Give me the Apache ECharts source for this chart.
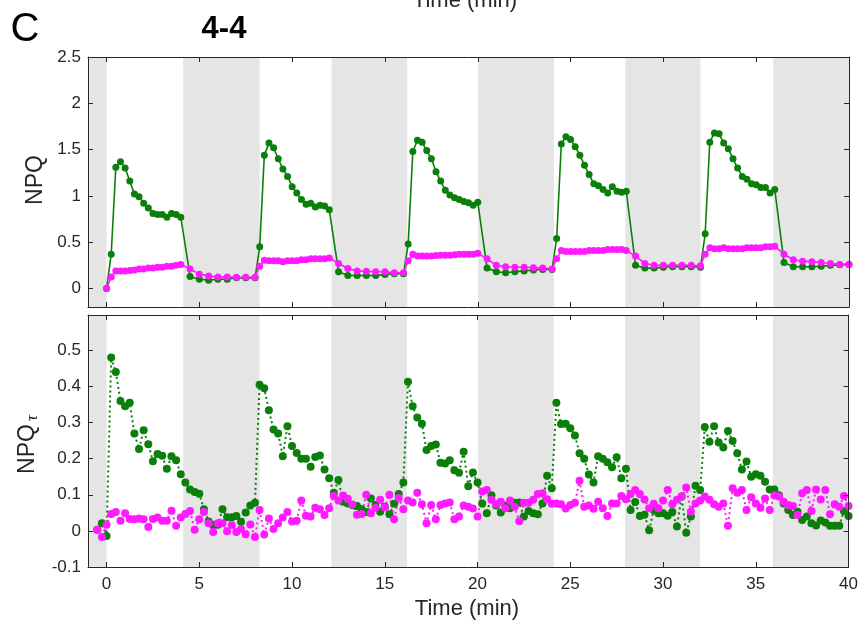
<!DOCTYPE html>
<html>
<head>
<meta charset="utf-8">
<script src="https://cdn.jsdelivr.net/npm/echarts@6/dist/echarts.min.js"></script>
<style>
html,body{margin:0;padding:0;background:#ffffff;}
#c{width:861px;height:624px;}
</style>
</head>
<body>
<div id="c"></div>
<script>
// ---------- tick labels ----------
const xTicks = [0, 5, 10, 15, 20, 25, 30, 35, 40];
const npqTicks = [0, 0.5, 1, 1.5, 2, 2.5];
const tauTicks = [-0.1, 0, 0.1, 0.2, 0.3, 0.4, 0.5];

// dark (shaded) periods, minutes
const darkBands = [[-1, 0], [4.13, 8.25], [12.12, 16.2], [20.02, 24.1], [27.95, 32.0], [35.92, 40]];

// ---------- sampling of the NPQ panel ----------
// one baseline point at t=0, then per 8-min cycle: 16 light points every 0.25 min, 8 dark points every 0.5 min
const cycleStarts = [0, 8, 16, 24, 32];
const lightOffsets = [0.25,0.5,0.75,1,1.25,1.5,1.75,2,2.25,2.5,2.75,3,3.25,3.5,3.75,4];
const darkOffsets = [4.5,5,5.5,6,6.5,7,7.5,8];

// ---------- NPQ values (top panel) ----------
const npqGreen = [0.00,
  0.37,1.31,1.37,1.30,1.16,1.02,0.99,0.92,0.87,0.81,0.80,0.80,0.77,0.81,0.80,0.77,
  0.13,0.10,0.09,0.10,0.10,0.115,0.115,0.115,
  0.45,1.44,1.57,1.52,1.40,1.29,1.21,1.10,1.03,0.96,0.91,0.92,0.88,0.90,0.89,0.85,
  0.18,0.14,0.14,0.14,0.14,0.15,0.16,0.16,
  0.48,1.48,1.60,1.58,1.49,1.40,1.26,1.16,1.06,1.01,0.98,0.96,0.94,0.925,0.90,0.93,
  0.22,0.18,0.17,0.18,0.19,0.20,0.205,0.205,
  0.54,1.56,1.64,1.61,1.53,1.44,1.33,1.23,1.13,1.11,1.07,1.03,1.10,1.05,1.04,1.05,
  0.25,0.22,0.22,0.23,0.235,0.235,0.235,0.23,
  0.59,1.58,1.68,1.67,1.57,1.51,1.40,1.30,1.21,1.18,1.13,1.12,1.09,1.09,1.03,1.07,
  0.28,0.235,0.235,0.235,0.24,0.25,0.255,0.26];

const npqMagenta = [0.00,
  0.125,0.19,0.19,0.19,0.195,0.20,0.21,0.21,0.22,0.22,0.23,0.23,0.24,0.24,0.25,0.26,
  0.21,0.155,0.135,0.125,0.125,0.12,0.12,0.12,
  0.24,0.305,0.30,0.30,0.30,0.29,0.30,0.30,0.30,0.31,0.31,0.32,0.32,0.32,0.32,0.33,
  0.27,0.215,0.19,0.185,0.18,0.18,0.17,0.17,
  0.30,0.37,0.35,0.35,0.35,0.35,0.355,0.36,0.36,0.36,0.365,0.37,0.37,0.37,0.37,0.38,
  0.32,0.25,0.235,0.23,0.23,0.225,0.22,0.21,
  0.32,0.41,0.40,0.40,0.40,0.40,0.40,0.41,0.41,0.41,0.41,0.42,0.42,0.42,0.42,0.41,
  0.35,0.27,0.25,0.25,0.25,0.25,0.25,0.245,
  0.37,0.44,0.43,0.43,0.44,0.43,0.43,0.43,0.43,0.44,0.44,0.44,0.44,0.45,0.45,0.455,
  0.37,0.31,0.295,0.29,0.28,0.27,0.26,0.26];

// ---------- NPQ-tau values (bottom panel), sampled every 0.25 min from -0.5 min ----------
const tauStart = -0.5, tauStep = 0.25;
const tauGreen = [
  0.003,0.021,-0.014,0.48,0.44,0.36,0.345,0.355,0.27,0.227,
  0.279,0.24,0.193,0.213,0.208,0.172,0.207,0.196,0.157,0.134,
  0.115,0.108,0.103,0.06,0.026,0.017,0.017,0.06,0.038,0.038,
  0.041,0.025,0.051,0.07,0.078,0.405,0.395,0.334,0.281,0.27,
  0.207,0.29,0.235,0.216,0.20,0.20,0.178,0.205,0.209,0.17,
  0.146,0.106,0.141,0.081,0.076,0.072,0.069,0.06,0.052,0.09,
  0.072,0.053,0.067,0.046,0.075,0.102,0.134,0.413,0.345,0.314,
  0.297,0.224,0.235,0.239,0.189,0.187,0.196,0.168,0.161,0.219,
  0.124,0.162,0.134,0.076,0.049,0.099,0.07,0.051,0.07,0.063,
  0.078,0.079,0.04,0.055,0.049,0.046,0.076,0.153,0.118,0.355,
  0.296,0.297,0.284,0.264,0.215,0.2,0.156,0.134,0.207,0.2,
  0.19,0.176,0.204,0.146,0.172,0.058,0.08,0.041,0.045,0.002,
  0.058,0.049,0.049,0.042,0.052,0.012,0.095,-0.005,0.04,0.125,
  0.113,0.288,0.247,0.29,0.245,0.231,0.277,0.249,0.215,0.17,
  0.192,0.15,0.157,0.153,0.136,0.115,0.115,0.099,0.076,0.058,
  0.044,0.053,0.03,0.04,0.021,0.015,0.029,0.023,0.014,0.014,
  0.014,0.055,0.041];

const tauMagenta = [
  0.003,-0.017,0.017,0.047,0.052,0.028,0.049,0.033,0.032,0.034,
  0.032,0.011,0.033,0.037,0.028,0.028,0.056,0.014,0.037,0.047,
  0.055,0.003,0.032,0.052,0.021,-0.003,0.021,0.021,-0.001,0.016,
  -0.003,0.005,-0.009,0.018,-0.017,0.058,-0.01,0.034,0.005,0.021,
  0.037,0.052,0.026,0.028,0.084,0.042,0.04,0.064,0.06,0.044,
  0.063,0.097,0.084,0.098,0.089,0.073,0.045,0.047,0.1,0.049,
  0.064,0.086,0.065,0.1,0.032,0.091,0.06,0.084,0.079,0.106,
  0.074,0.021,0.072,0.032,0.072,0.076,0.079,0.032,0.04,0.07,
  0.067,0.062,0.04,0.109,0.113,0.086,0.074,0.081,0.063,0.084,
  0.067,0.027,0.078,0.078,0.086,0.102,0.104,0.088,0.075,0.076,
  0.074,0.062,0.072,0.078,0.139,0.067,0.07,0.061,0.081,0.063,
  0.041,0.076,0.076,0.097,0.088,0.102,0.113,0.102,0.087,0.063,
  0.075,0.063,0.084,0.113,0.074,0.086,0.095,0.12,0.053,0.076,
  0.084,0.095,0.086,0.074,0.067,0.076,0.014,0.118,0.106,0.113,
  0.058,0.093,0.076,0.064,0.09,0.058,0.098,0.095,0.081,0.072,
  0.069,0.044,0.104,0.113,0.055,0.115,0.087,0.113,0.046,0.074,
  0.067,0.097,0.069];

// ---------- build ----------
const npqTimes = [0];
cycleStarts.forEach(c => {
  lightOffsets.forEach(o => npqTimes.push(c + o));
  darkOffsets.forEach(o => npqTimes.push(c + o));
});
const tauTimes = tauGreen.map((_, k) => tauStart + tauStep * k);

const GREEN = '#0a7f0a';
const MAGENTA = '#ff1aff';
const AX = '#262626';
const FONT = '"Liberation Sans", Arial, Helvetica, sans-serif';

function xAxisDef(gridIndex, position, showLabels) {
  return {
    type: 'value', gridIndex: gridIndex, position: position, min: -1, max: 40, z: 10,
    axisLine: { show: true, onZero: false, lineStyle: { color: AX, width: 1 } },
    axisTick: { show: true, inside: true, length: 5, customValues: xTicks, lineStyle: { color: AX, width: 1 } },
    axisLabel: { show: showLabels, customValues: xTicks, color: AX, fontSize: 17, fontFamily: FONT, margin: 9 },
    splitLine: { show: false }
  };
}
function yAxisDef(gridIndex, position, showLabels, min, max, ticks) {
  return {
    type: 'value', gridIndex: gridIndex, position: position, min: min, max: max, z: 10,
    axisLine: { show: true, onZero: false, lineStyle: { color: AX, width: 1 } },
    axisTick: { show: true, inside: true, length: 5, customValues: ticks, lineStyle: { color: AX, width: 1 } },
    axisLabel: { show: showLabels, customValues: ticks, color: AX, fontSize: 17, fontFamily: FONT, margin: 7,
      formatter: v => String(Math.round(v * 100) / 100) },
    splitLine: { show: false }
  };
}
const bandArea = {
  silent: true,
  itemStyle: { color: '#e5e5e5' },
  label: { show: false },
  data: darkBands.map(b => [{ xAxis: b[0] }, { xAxis: b[1] }])
};

function lineSeries(xi, yi, xs, ys, color, size, lineType, width, withBands) {
  const s = {
    type: 'line', xAxisIndex: xi, yAxisIndex: yi,
    data: xs.map((t, i) => [t, ys[i]]),
    symbol: 'circle', symbolSize: size, showSymbol: true, showAllSymbol: true,
    itemStyle: { color: color, borderWidth: 0 },
    lineStyle: { color: color, width: width, type: lineType },
    emphasis: { disabled: true },
    animation: false, clip: true
  };
  if (withBands) s.markArea = bandArea;
  return s;
}

const chart = echarts.init(document.getElementById('c'), null, { renderer: 'canvas' });
chart.setOption({
  animation: false,
  backgroundColor: '#ffffff',
  grid: [
    { left: 88, top: 57, width: 761, height: 250 },
    { left: 88, top: 315, width: 761, height: 252 }
  ],
  xAxis: [
    xAxisDef(0, 'bottom', false),
    xAxisDef(0, 'top', false),
    xAxisDef(1, 'bottom', true),
    xAxisDef(1, 'top', false)
  ],
  yAxis: [
    yAxisDef(0, 'left', true, -0.2, 2.5, npqTicks),
    yAxisDef(0, 'right', false, -0.2, 2.5, npqTicks),
    yAxisDef(1, 'left', true, -0.1, 0.598, tauTicks),
    yAxisDef(1, 'right', false, -0.1, 0.598, tauTicks)
  ],
  series: [
    lineSeries(0, 0, npqTimes, npqGreen, GREEN, 7, 'solid', 1.6, true),
    lineSeries(0, 0, npqTimes, npqMagenta, MAGENTA, 7, 'solid', 1.6, false),
    lineSeries(2, 2, tauTimes, tauGreen, GREEN, 8, [2, 3], 2, true),
    lineSeries(2, 2, tauTimes, tauMagenta, MAGENTA, 8, [2, 3], 2, false)
  ],
  graphic: [
    { type: 'text', x: 25, y: 30, style: { text: 'C', font: '40px ' + FONT, fill: '#000', textAlign: 'center', textVerticalAlign: 'middle', align: 'center', verticalAlign: 'middle' } },
    { type: 'text', x: 224, y: 29, style: { text: '4-4', font: 'bold 31px ' + FONT, fill: '#000', textAlign: 'center', textVerticalAlign: 'middle', align: 'center', verticalAlign: 'middle' } },
    { type: 'text', x: 465, y: 1, style: { text: 'Time (min)', font: '22px ' + FONT, fill: AX, textAlign: 'center', textVerticalAlign: 'middle', align: 'center', verticalAlign: 'middle' } },
    { type: 'text', x: 467, y: 609, style: { text: 'Time (min)', font: '22px ' + FONT, fill: AX, textAlign: 'center', textVerticalAlign: 'middle', align: 'center', verticalAlign: 'middle' } },
    { type: 'text', x: 36, y: 180, rotation: Math.PI / 2, style: { text: 'NPQ', font: '23px ' + FONT, fill: AX, textAlign: 'center', textVerticalAlign: 'middle', align: 'center', verticalAlign: 'middle' } },
    { type: 'text', x: 28, y: 449, rotation: Math.PI / 2, style: { text: 'NPQ', font: '23px ' + FONT, fill: AX, textAlign: 'center', textVerticalAlign: 'middle', align: 'center', verticalAlign: 'middle' } },
    { type: 'text', x: 33, y: 418, rotation: Math.PI / 2, style: { text: 'τ', font: 'italic 17px "Liberation Serif", serif', fill: AX, textAlign: 'center', textVerticalAlign: 'middle', align: 'center', verticalAlign: 'middle' } }
  ]
});
</script>
</body>
</html>
